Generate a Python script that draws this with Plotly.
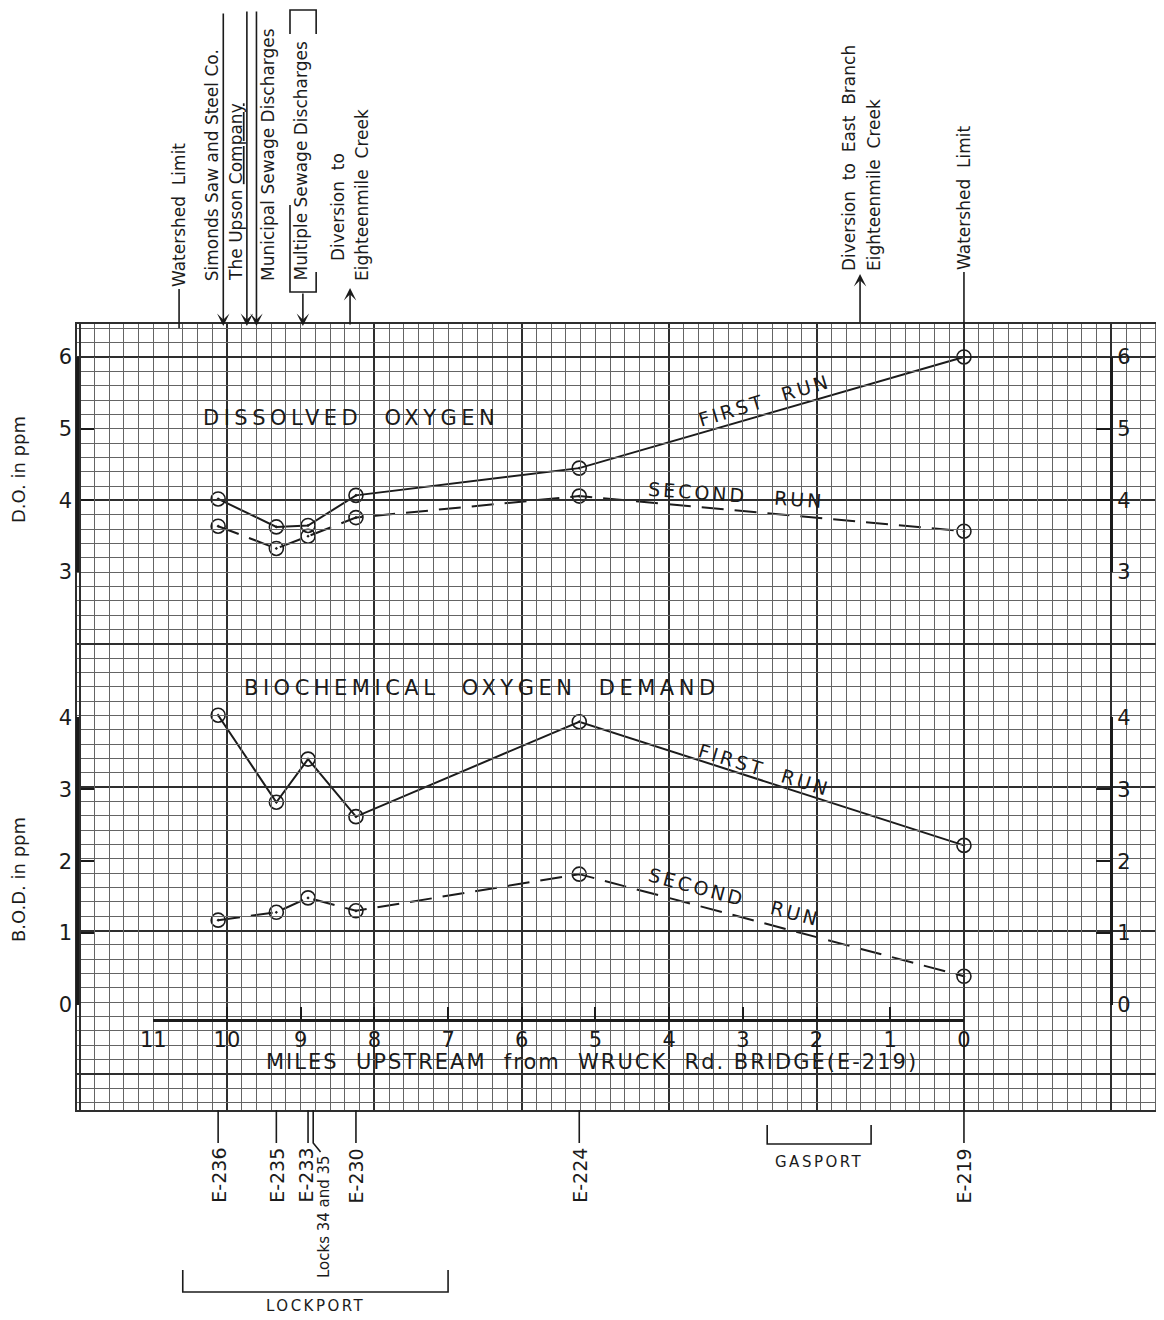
import plotly.graph_objects as go

# ------------------------------------------------------------------ data
stations = ["E-236", "E-235", "E-233", "E-230", "E-224", "E-219"]
station_miles = [10.12, 9.33, 8.90, 8.25, 5.22, 0.0]

do_first_run = [4.02, 3.63, 3.65, 4.07, 4.45, 6.00]
do_second_run = [3.64, 3.33, 3.50, 3.76, 4.06, 3.57]
bod_first_run = [4.03, 2.82, 3.42, 2.62, 3.94, 2.22]
bod_second_run = [1.18, 1.29, 1.49, 1.31, 1.82, 0.40]

mile_ticks = [11, 10, 9, 8, 7, 6, 5, 4, 3, 2, 1, 0]
mile_tick_labels = [str(m) for m in mile_ticks]
do_ticks = [3, 4, 5, 6]
bod_ticks = [0, 1, 2, 3, 4]

# landmarks along the canal (miles upstream of Wruck Rd. Bridge)
watershed_limit_miles = [10.65, 0.0]
discharge_names = ["Simonds Saw and Steel Co.", "The Upson Company",
                   "Municipal Sewage Discharges", "Multiple Sewage Discharges"]
discharge_miles = [10.05, 9.73, 9.60, 8.97]
diversion_miles = [8.33, 1.41]
locks_mile = 8.83
lockport_span = [10.6, 7.0]
gasport_span = [2.67, 1.26]

# ------------------------------------------------------------------ frame
INK = "#1b1b1b"
FONT = "DejaVu Sans"
OFF = 8                                   # page body margin of the browser
FIG_W, FIG_H = 1164 - OFF, 1320 - OFF
L, R, T, B = 77, 1160, 324, 1110          # plot box in page pixels
W, H = R - L, B - T
MILE_L, MILE_R = 12.035, -2.66
DO_LO, DO_HI = -4.502, 6.46
BOD_LO, BOD_HI = -1.46, 9.471


def P(py):  # page pixel y -> paper fraction
    return (B - py) / H


def fx(m):
    return (MILE_L - m) / (MILE_L - MILE_R)


def fdo(v):
    return (v - DO_LO) / (DO_HI - DO_LO)


def fbod(v):
    return (v - BOD_LO) / (BOD_HI - BOD_LO)


fig = go.Figure()

marker = dict(symbol="circle-open-dot", size=14, color=INK, line=dict(width=1.6, color=INK))
fig.add_trace(go.Scatter(x=station_miles, y=do_first_run, mode="lines+markers",
                         line=dict(color=INK, width=2), marker=marker,
                         xaxis="x", yaxis="y", cliponaxis=False, name="DO first run"))
fig.add_trace(go.Scatter(x=station_miles, y=do_second_run, mode="lines+markers",
                         line=dict(color=INK, width=2, dash="22px,11px"), marker=marker,
                         xaxis="x", yaxis="y", cliponaxis=False, name="DO second run"))
fig.add_trace(go.Scatter(x=station_miles, y=bod_first_run, mode="lines+markers",
                         line=dict(color=INK, width=2), marker=marker,
                         xaxis="x", yaxis="y2", cliponaxis=False, name="BOD first run"))
fig.add_trace(go.Scatter(x=station_miles, y=bod_second_run, mode="lines+markers",
                         line=dict(color=INK, width=2, dash="22px,11px"), marker=marker,
                         xaxis="x", yaxis="y2", cliponaxis=False, name="BOD second run"))

# empty traces so the decorative scale axes are drawn
for ya in ["y3", "y4", "y5", "y6"]:
    fig.add_trace(go.Scatter(x=[None], y=[None], xaxis="x", yaxis=ya, showlegend=False, hoverinfo="skip"))
fig.add_trace(go.Scatter(x=[None], y=[None], xaxis="x2", yaxis="y", showlegend=False, hoverinfo="skip"))

tickfont = dict(family=FONT, size=21, color=INK)
MAJ, MIN = "#2e2e2e", "#646464"
pos_right = fx(-2.0)
eps = 0.002


def scale_axis(lo, hi, f, ticks, position, side):
    return dict(domain=[f(lo - eps), f(hi + eps)], range=[lo - eps, hi + eps],
                anchor="free", position=position, side=side,
                tickmode="array", tickvals=ticks, ticktext=[str(t) for t in ticks],
                ticks="inside", ticklen=15, tickwidth=2, tickcolor=INK,
                showline=True, linewidth=2.5, linecolor=INK,
                showgrid=False, zeroline=False, tickfont=tickfont, fixedrange=True)


fig.update_layout(
    width=FIG_W, height=FIG_H,
    margin=dict(l=L - OFF, r=FIG_W - (R - OFF), t=T - OFF, b=FIG_H - (B - OFF), autoexpand=False),
    paper_bgcolor="white", plot_bgcolor="rgba(0,0,0,0)",
    showlegend=False,
    xaxis=dict(range=[MILE_L, MILE_R], tick0=0, dtick=2, showgrid=True, gridcolor=MAJ, gridwidth=2,
               minor=dict(tick0=0, dtick=0.2, showgrid=True, gridcolor=MIN, gridwidth=1),
               showticklabels=False, ticks="", zeroline=False,
               showline=True, mirror=True, linecolor=MAJ, linewidth=1.5, fixedrange=True),
    yaxis=dict(range=[DO_LO, DO_HI], tick0=0, dtick=2, showgrid=True, gridcolor=MAJ, gridwidth=2,
               minor=dict(tick0=0, dtick=0.2, showgrid=True, gridcolor=MIN, gridwidth=1),
               showticklabels=False, ticks="", zeroline=False,
               showline=True, mirror=True, linecolor=MAJ, linewidth=1.5, fixedrange=True),
    yaxis2=dict(range=[BOD_LO, BOD_HI], overlaying="y", visible=False, fixedrange=True),
    yaxis3=scale_axis(3, 6, fdo, do_ticks, 0.0, "left"),
    yaxis4=scale_axis(3, 6, fdo, do_ticks, pos_right, "right"),
    yaxis5=scale_axis(0, 4, fbod, bod_ticks, 0.0, "left"),
    yaxis6=scale_axis(0, 4, fbod, bod_ticks, pos_right, "right"),
    xaxis2=dict(domain=[fx(11 + eps), fx(0 - eps)], range=[11 + eps, 0 - eps],
                anchor="free", position=fbod(-0.21), side="bottom",
                tickmode="array", tickvals=mile_ticks, ticktext=mile_tick_labels,
                ticks="inside", ticklen=12, tickwidth=2, tickcolor=INK,
                showline=True, linewidth=2.5, linecolor=INK,
                showgrid=False, zeroline=False, tickfont=tickfont, fixedrange=True),
)

ann = []
shapes = []


def text(t, x, y, size, xref="x", yref="paper", angle=0, xa="center", ya="middle", xshift=0, **kw):
    ann.append(dict(text=t, x=x, y=y, xref=xref, yref=yref, textangle=angle,
                    xanchor=xa, yanchor=ya, xshift=xshift, showarrow=False,
                    font=dict(family=FONT, size=size, color=INK), **kw))


def vline(m, p0, p1, w=1.6):
    shapes.append(dict(type="line", xref="x", yref="paper", x0=m, x1=m, y0=P(p0), y1=P(p1),
                       line=dict(color=INK, width=w)))


def arrow(m, head_py, tail_py):
    ann.append(dict(text="", x=m, y=P(head_py), xref="x", yref="paper", showarrow=True,
                    ax=0, ay=tail_py - head_py, axref="pixel", ayref="pixel",
                    arrowhead=3, arrowsize=1.3, arrowwidth=1.6, arrowcolor=INK, standoff=0))


def path(points, w=1.6):
    d = "M " + " L ".join(f"{m},{P(py)}" for m, py in points)
    shapes.append(dict(type="path", xref="x", yref="paper", path=d, line=dict(color=INK, width=w)))


def spaced(t, px):
    return f'<span style="letter-spacing:{px}px">{t}</span>'


# ---------------- top landmark labels
S = 17
text("Watershed\u00a0\u00a0Limit", watershed_limit_miles[0], P(289), S, angle=-90, ya="bottom")
vline(watershed_limit_miles[0], 289, T + 4)

text(discharge_names[0], discharge_miles[0], P(283), S, angle=-90, ya="bottom", xshift=-11)
arrow(discharge_miles[0], T + 2, 12)
text('The Upson <span style="text-decoration:underline">Company</span>', discharge_miles[1], P(283), S,
     angle=-90, ya="bottom", xshift=-11)
arrow(discharge_miles[1], T + 2, 10)
text(discharge_names[2], discharge_miles[2], P(283), S, angle=-90, ya="bottom", xshift=11)
arrow(discharge_miles[2], T + 2, 10)
text(discharge_names[3], discharge_miles[3], P(282), S, angle=-90, ya="bottom", xshift=-2)
arrow(discharge_miles[3], T + 2, 292)
path([(9.145, 34), (9.145, 10), (8.79, 10), (8.79, 34)])
path([(9.145, 205), (9.145, 292), (8.79, 292), (8.79, 272)])

text("Diversion\u00a0\u00a0to", diversion_miles[0], P(263), S, angle=-90, ya="bottom", xshift=-12)
text("Eighteenmile\u00a0\u00a0Creek", diversion_miles[0], P(283), S, angle=-90, ya="bottom", xshift=12)
arrow(diversion_miles[0], 288, T + 2)

text("Diversion\u00a0\u00a0to\u00a0\u00a0East\u00a0\u00a0Branch", diversion_miles[1], P(273), S,
     angle=-90, ya="bottom", xshift=-11)
text("Eighteenmile\u00a0\u00a0Creek", diversion_miles[1], P(273), S, angle=-90, ya="bottom", xshift=14)
arrow(diversion_miles[1], 274, T)

text("Watershed\u00a0\u00a0Limit", watershed_limit_miles[1], P(272), S, angle=-90, ya="bottom")
vline(watershed_limit_miles[1], 272, T)

# ---------------- bottom station labels
for name, m in zip(stations, station_miles):
    vline(m, B, 1143)
    shift = -3 if name == "E-233" else 0
    text(name, m, P(1146), 19, angle=-90, ya="top", xshift=shift)
path([(locks_mile, B), (locks_mile, 1143), (locks_mile - 0.1, 1152)])
text("Locks 34 and 35", locks_mile - 0.1, P(1153), 15, angle=-90, ya="top", xshift=3)

path([(lockport_span[0], 1270), (lockport_span[0], 1292), (lockport_span[1], 1292), (lockport_span[1], 1270)])
text(spaced("LOCKPORT", 2.5), sum(lockport_span) / 2, P(1306), 15)
path([(gasport_span[0], 1125), (gasport_span[0], 1144), (gasport_span[1], 1144), (gasport_span[1], 1125)])
text(spaced("GASPORT", 2.5), sum(gasport_span) / 2, P(1162), 15)

# ---------------- headings and run labels
text(spaced("DISSOLVED\u00a0\u00a0OXYGEN", 4.5), 10.35, 5.15, 21, yref="y", xa="left")
text(spaced("BIOCHEMICAL\u00a0\u00a0OXYGEN\u00a0\u00a0DEMAND", 4.5), 9.8, 4.41, 21, yref="y2", xa="left")
text(spaced("FIRST\u00a0\u00a0RUN", 3), 2.70, 5.40, 19, yref="y", angle=-17)
text(spaced("SECOND\u00a0\u00a0\u00a0RUN", 3), 3.08, 4.08, 19, yref="y", angle=4)
text(spaced("FIRST\u00a0\u00a0RUN", 3), 2.70, 3.27, 19, yref="y2", angle=17)
text(spaced("SECOND\u00a0\u00a0\u00a0RUN", 3), 3.11, 1.50, 19, yref="y2", angle=15)
text(spaced("MILES\u00a0\u00a0UPSTREAM\u00a0\u00a0from\u00a0\u00a0WRUCK\u00a0\u00a0Rd.\u00a0BRIDGE(E-219)", 2),
     5.05, -0.79, 21, yref="y2")

# axis titles
text("D.O. in ppm", (18 - L) / W, P(470), 18, xref="paper", angle=-90)
text("B.O.D. in ppm", (18 - L) / W, P(880), 18, xref="paper", angle=-90)

fig.update_layout(annotations=ann, shapes=shapes)
fig.write_html("out.html")
